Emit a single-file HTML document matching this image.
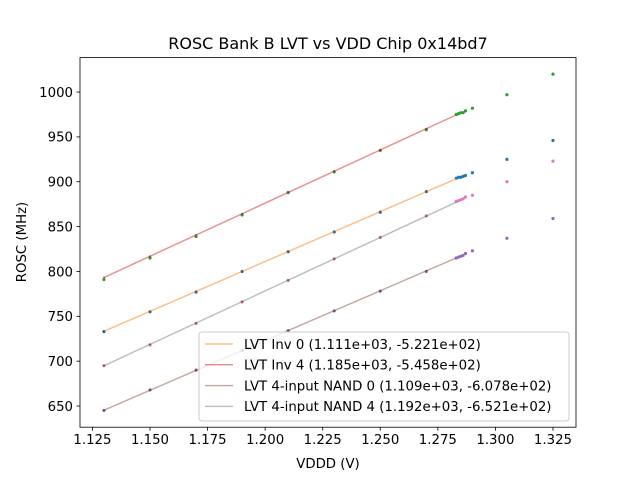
<!DOCTYPE html>
<html><head><meta charset="utf-8"><style>
body{margin:0;background:#fff}
svg text{font-family:"DejaVu Sans","Liberation Sans",sans-serif;fill:#000}
</style></head><body>
<svg id="c" width="640" height="480" xmlns="http://www.w3.org/2000/svg">
<rect width="640" height="480" fill="#fff"/>
<g id="plot"></g>
<text x="328" y="49" font-size="16" text-anchor="middle">ROSC Bank B LVT vs VDD Chip 0x14bd7</text>
<text x="328" y="468" font-size="13.3" text-anchor="middle">VDDD (V)</text>
<text transform="translate(26,242) rotate(-90)" font-size="13.3" text-anchor="middle">ROSC (MHz)</text>
</svg>
<script>
const xs=[1.13,1.15,1.17,1.19,1.21,1.23,1.25,1.27,1.283,1.284,1.285,1.286,1.287,1.29,1.305,1.325];
const inv0=[733,755,777,800,822,844,866,889,904,905,905,906,907,910,925,946];
const inv4=[791,815,839,863,888,911,935,958,975,976,977,977,979,982,997,1020];
const nand0=[645,668,690,712,734,756,778,800,815,816,817,818,820,823,837,859];
const nand4=[695,718,742,766,790,814,838,862,878,879,880,881,883,885,900,923];
const fitSlopes=[1111,1185,1109,1192];
const fitIntercepts=[-522.1,-545.8,-607.8,-652.1];
const legendLabels=["LVT Inv 0 (1.111e+03, -5.221e+02)","LVT Inv 4 (1.185e+03, -5.458e+02)","LVT 4-input NAND 0 (1.109e+03, -6.078e+02)","LVT 4-input NAND 4 (1.192e+03, -6.521e+02)"];
const xTicks=[1.125,1.15,1.175,1.2,1.225,1.25,1.275,1.3,1.325];
const yTicks=[650,700,750,800,850,900,950,1000];
const lineX=[1.13,1.283];

const L=80,R=576,T=57.6,B=427.2;
const xmin=1.1196,xmax=1.3350,ymin=626.4,ymax=1038.4;
const X=v=>L+(v-xmin)/(xmax-xmin)*(R-L);
const Y=v=>B-(v-ymin)/(ymax-ymin)*(B-T);
const NS="http://www.w3.org/2000/svg";
const g=document.getElementById('plot');
function mk(t,a,p){const e=document.createElementNS(NS,t);for(const k in a)e.setAttribute(k,a[k]);(p||g).appendChild(e);return e;}
// ticks
xTicks.forEach(t=>{
 const l=mk('line',{x1:X(t),x2:X(t),y1:B,y2:B+3.5,stroke:'#000','stroke-width':0.8});
 
 
 const tx=mk('text',{x:X(t),y:B+17,'font-size':13.3,'text-anchor':'middle'});
 tx.textContent=t.toFixed(3);
 
 
});
yTicks.forEach(t=>{
 const l=mk('line',{x1:L-3.5,x2:L,y1:Y(t),y2:Y(t),stroke:'#000','stroke-width':0.8});
 
 
 const tx=mk('text',{x:L-7,y:Y(t)+4.8,'font-size':13.3,'text-anchor':'end'});
 tx.textContent=t;
 
 
});
// scatter
const series=[[inv0,'#1f77b4','inv0'],[inv4,'#2ca02c','inv4'],[nand0,'#9467bd','nand0'],[nand4,'#e377c2','nand4']];
series.forEach(([d,c,n])=>{d.forEach((v,i)=>{
 const p=mk('circle',{cx:X(xs[i]),cy:Y(v),r:1.6,fill:c});
 
 
});});
// fit lines
const lcol=['rgba(255,127,14,0.5)','rgba(214,39,40,0.5)','rgba(140,86,75,0.5)','rgba(127,127,127,0.5)'];
fitSlopes.forEach((s,i)=>{
 const l=mk('line',{x1:X(lineX[0]),y1:Y(s*lineX[0]+fitIntercepts[i]),x2:X(lineX[1]),y2:Y(s*lineX[1]+fitIntercepts[i]),stroke:lcol[i],'stroke-width':1.5});
 
 
 for(let k=0;k<8;k++){const d=mk('circle',{cx:X(xs[k]),cy:Y(s*xs[k]+fitIntercepts[i]),r:1,fill:'rgba(60,60,60,0.6)'});
 
 }
});
// frame
const fr=mk('rect',{x:L,y:T,width:R-L,height:B-T,fill:'none',stroke:'#000','stroke-width':0.8});


// legend
const lg=mk('g',{});


mk('rect',{x:199,y:332,width:370,height:89,rx:3,fill:'rgba(255,255,255,0.8)',stroke:'#ccc','stroke-width':1},lg);
legendLabels.forEach((t,i)=>{
 const y=344+i*20.8;
 const e=mk('g',{},lg);
 
 
 mk('line',{x1:205,x2:233,y1:y,y2:y,stroke:lcol[i],'stroke-width':1.5},e);
 const tx=mk('text',{x:244,y:y+4.8,'font-size':13.3},e);
 tx.textContent=t;
});
</script>
</body></html>
